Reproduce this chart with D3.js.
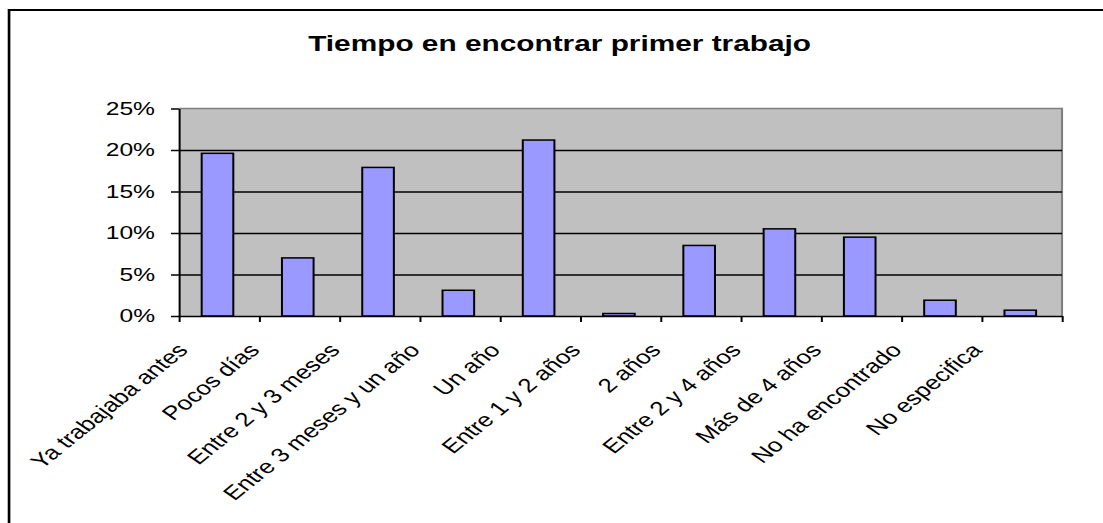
<!DOCTYPE html>
<html>
<head>
<meta charset="utf-8">
<script src="https://cdn.jsdelivr.net/npm/d3@7"></script>
<style>
  body { margin: 0; background: #fff; }
  svg { display: block; }
  text { font-family: "Liberation Sans", Arial, sans-serif; fill: #000; }
</style>
</head>
<body>
<svg id="chart"></svg>
<script>
const categories = [
  "Ya trabajaba antes", "Pocos días", "Entre 2 y 3 meses", "Entre 3 meses y un año",
  "Un año", "Entre 1 y 2 años", "2 años", "Entre 2 y 4 años", "Más de 4 años",
  "No ha encontrado", "No especifica"
];
const values = [0.196, 0.070, 0.179, 0.031, 0.212, 0.003, 0.085, 0.105, 0.095, 0.019, 0.007];
const yTicks = [0, 0.05, 0.10, 0.15, 0.20, 0.25];
const title = "Tiempo en encontrar primer trabajo";

// the picture is stretched sideways, so draw in a narrower box and let the viewBox widen it
const W = 829, H = 523;
const plotLeft = 134.5, plotRight = 798.2, plotTop = 108.5, plotBottom = 316;

const svg = d3.select('#chart')
  .attr('width', 1103)
  .attr('height', 523)
  .attr('viewBox', `0 0 ${W} ${H}`)
  .attr('preserveAspectRatio', 'none');

// outer chart border (runs off the right and bottom edges)
svg.append('rect')
  .attr('x', 6.8).attr('y', 10)
  .attr('width', W).attr('height', H)
  .attr('fill', '#fff')
  .attr('stroke', '#000')
  .attr('stroke-width', 2);

svg.append('text')
  .attr('x', 420.6)
  .attr('y', 51)
  .attr('text-anchor', 'middle')
  .style('font-size', '22.4px')
  .style('font-weight', 'bold')
  .text(title);

const x = d3.scaleBand().domain(categories).range([plotLeft, plotRight]).padding(0);
const xi = d3.scaleLinear().domain([0, categories.length]).range([plotLeft, plotRight]);
const y = d3.scaleLinear().domain([0, 0.25]).range([plotBottom, plotTop]);

// plot area
svg.append('rect')
  .attr('x', plotLeft).attr('y', plotTop)
  .attr('width', plotRight - plotLeft).attr('height', plotBottom - plotTop)
  .attr('fill', '#c0c0c0');

svg.append('path')
  .attr('d', `M${plotLeft},${plotTop}H${plotRight}V${plotBottom}`)
  .attr('fill', 'none')
  .attr('stroke', '#808080')
  .attr('stroke-width', 1.6);

// gridlines
svg.append('g')
  .attr('transform', `translate(${plotLeft},0)`)
  .call(d3.axisLeft(y).tickValues(yTicks.slice(1, -1)).tickSize(-(plotRight - plotLeft)).tickFormat(''))
  .call(g => g.select('.domain').remove())
  .call(g => g.selectAll('line').attr('stroke', '#000').attr('stroke-width', 1.3));

// bars
svg.append('g')
  .selectAll('rect')
  .data(values)
  .enter()
  .append('rect')
  .attr('x', (d, i) => x(categories[i]) + x.bandwidth() * 0.283)
  .attr('y', d => y(d))
  .attr('width', x.bandwidth() * 0.394)
  .attr('height', d => plotBottom - y(d))
  .attr('fill', '#9999ff')
  .attr('stroke', '#000')
  .attr('stroke-width', 1.5);

// y axis
svg.append('g')
  .attr('transform', `translate(${plotLeft},0)`)
  .call(d3.axisLeft(y).tickValues(yTicks).tickSize(6).tickSizeOuter(0).tickPadding(12).tickFormat(d3.format('.0%')))
  .call(g => g.selectAll('line, .domain').attr('stroke', '#000').attr('stroke-width', 1.5))
  .call(g => g.selectAll('text').style('font-size', '18.5px').attr('font-family', null));

// x axis, ticks between categories
svg.append('g')
  .attr('transform', `translate(0,${plotBottom})`)
  .call(d3.axisBottom(xi).tickValues(d3.range(categories.length + 1)).tickSize(6).tickSizeOuter(0).tickFormat(''))
  .call(g => g.selectAll('line, .domain').attr('stroke', '#000').attr('stroke-width', 1.5));

// rotated category labels, first one pushed right so it stays inside the border
const angle = 47;
const minStart = 31.6;
svg.append('g')
  .selectAll('text')
  .data(categories)
  .enter()
  .append('text')
  .attr('text-anchor', 'end')
  .style('font-size', '19.5px')
  .text(d => d)
  .each(function (d) {
    const len = this.getComputedTextLength();
    let ex = x(d) + x.bandwidth() / 2 - 29;
    const start = ex - len * Math.cos(angle * Math.PI / 180);
    if (start < minStart) ex += minStart - start;
    d3.select(this).attr('transform', `translate(${ex},351) rotate(${-angle})`);
  });
</script>
</body>
</html>
